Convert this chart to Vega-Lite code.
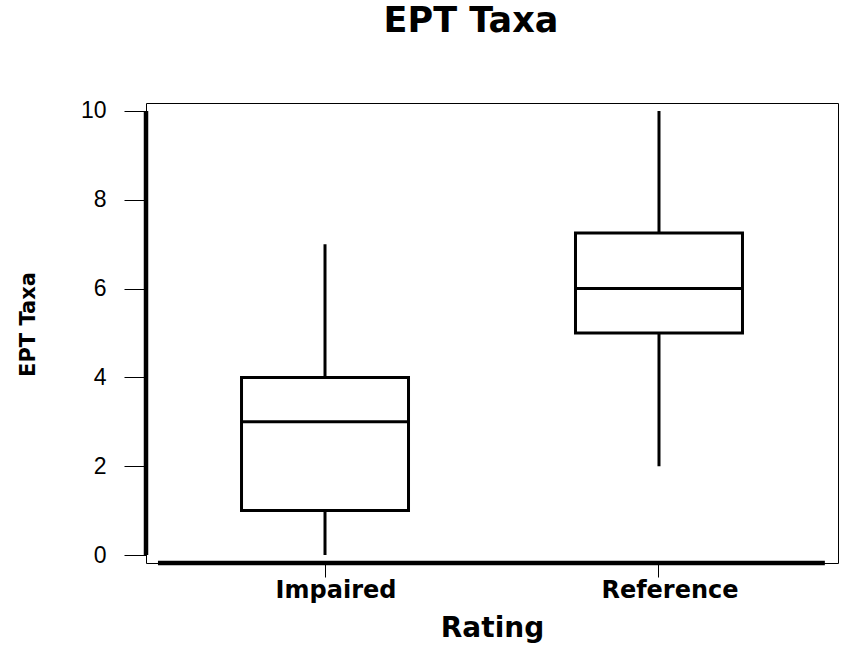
{
  "$schema": "https://vega.github.io/schema/vega-lite/v6.json",
  "width": 692,
  "height": 460,
  "autosize": "none",
  "padding": {"left": 146, "top": 103, "right": 5, "bottom": 84},
  "background": "white",
  "title": {
    "text": "EPT Taxa",
    "font": "DejaVu Sans",
    "fontSize": 35,
    "fontWeight": "bold",
    "color": "black",
    "anchor": "middle",
    "frame": "group",
    "dx": -21,
    "baseline": "alphabetic",
    "offset": 33
  },
  "config": {
    "view": {"stroke": "black", "strokeWidth": 1}
  },
  "datasets": {
    "boxes": [
      {"Rating": "Impaired", "min": 0, "q1": 1, "median": 3, "q3": 4, "max": 7},
      {"Rating": "Reference", "min": 2, "q1": 5, "median": 6, "q3": 7.25, "max": 10}
    ]
  },
  "layer": [
    {
      "data": {"name": "boxes"},
      "encoding": {
        "x": {
          "field": "Rating",
          "type": "nominal",
          "scale": {"type": "band", "paddingInner": 0.5, "paddingOuter": 0.286},
          "axis": {
            "title": "Rating",
            "titleFont": "DejaVu Sans",
            "titleFontSize": 28,
            "titleFontWeight": "bold",
            "titleColor": "black",
            "titlePadding": 12,
            "labelFont": "DejaVu Sans",
            "labelFontSize": 24,
            "labelFontWeight": "bold",
            "labelColor": "black",
            "labelAngle": 0,
            "labelOffset": 11,
            "labelPadding": 1,
            "domain": false,
            "ticks": true,
            "tickSize": 14,
            "tickColor": "black",
            "tickWidth": 1,
            "grid": false
          }
        }
      },
      "layer": [
        {
          "mark": {"type": "rule", "color": "black", "strokeWidth": 3},
          "encoding": {
            "y": {
              "field": "min",
              "type": "quantitative",
              "scale": {"domain": [-0.18, 10.18], "nice": false, "zero": false},
              "axis": {
                "title": "EPT Taxa",
                "titleFont": "DejaVu Sans",
                "titleFontSize": 21,
                "titleFontWeight": "bold",
                "titleColor": "black",
                "titlePadding": 42,
                "titleY": 221,
                "values": [0, 2, 4, 6, 8, 10],
                "labelFont": "Liberation Sans",
                "labelFontSize": 23,
                "labelColor": "black",
                "labelPadding": 18,
                "domain": false,
                "tickSize": 22,
                "tickColor": "black",
                "tickWidth": 1,
                "grid": false
              }
            },
            "y2": {"field": "max"}
          }
        },
        {
          "mark": {"type": "bar", "fill": "white", "stroke": "black", "strokeWidth": 3},
          "encoding": {
            "y": {"field": "q1", "type": "quantitative"},
            "y2": {"field": "q3"}
          }
        },
        {
          "mark": {"type": "tick", "color": "black", "opacity": 1, "size": 167, "thickness": 3},
          "encoding": {
            "y": {"field": "median", "type": "quantitative"}
          }
        }
      ]
    },
    {
      "data": {"values": [{}]},
      "mark": {"type": "rule", "color": "black", "strokeWidth": 4.5},
      "encoding": {
        "x": {"datum": 0, "type": "quantitative", "scale": {"domain": [0, 1], "nice": false, "zero": false}, "axis": null},
        "y": {"datum": 0, "type": "quantitative"},
        "y2": {"datum": 10}
      }
    },
    {
      "data": {"values": [{}]},
      "mark": {"type": "rule", "color": "black", "strokeWidth": 4.5},
      "encoding": {
        "x": {"datum": 0.0173, "type": "quantitative", "scale": {"domain": [0, 1], "nice": false, "zero": false}, "axis": null},
        "x2": {"datum": 0.981},
        "y": {"datum": -0.18, "type": "quantitative"}
      }
    }
  ],
  "resolve": {"scale": {"x": "independent"}, "axis": {"x": "independent"}}
}
